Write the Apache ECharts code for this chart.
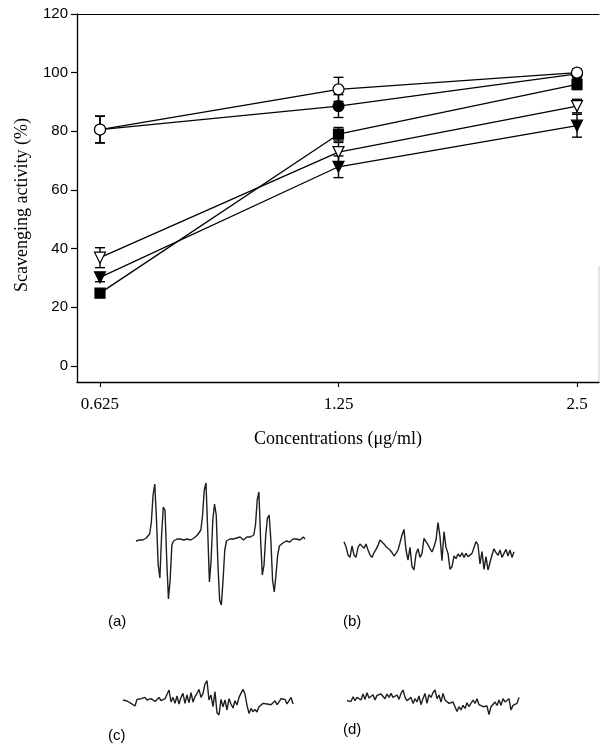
<!DOCTYPE html>
<html>
<head>
<meta charset="utf-8">
<script src="https://cdn.jsdelivr.net/npm/echarts@6/dist/echarts.min.js"></script>
<style>
html, body { margin: 0; padding: 0; background: #fff; }
#chart { width: 600px; height: 749px; }
</style>
</head>
<body>
<div id="chart"></div>
<script>
// Concentrations tested (µg/ml) and axis tick labels
const concentrations = [0.625, 1.25, 2.5];
const concLabels = ['0.625', '1.25', '2.5'];
const yTicks = [0, 20, 40, 60, 80, 100, 120];

// Scavenging activity (%) and standard deviations for each sample
const filledCircle = [80.6, 88.6, 99.6];
const filledCircleErr = [4.5, 3.9, 1.0];
const openCircle = [80.6, 94.3, 100.0];
const openCircleErr = [4.6, 4.1, 1.2];
const filledSquare = [24.8, 79.0, 96.0];
const filledSquareErr = [1.2, 2.3, 1.8];
const openTriangle = [36.9, 72.9, 88.6];
const openTriangleErr = [3.4, 3.3, 2.3];
const filledTriangle = [30.2, 67.9, 81.9];
const filledTriangleErr = [1.5, 3.7, 3.9];

// ESR spectra (relative signal intensity at evenly spaced field steps)
const spectrumA = [-1, 1, 0, -2, 0, 1, 2, 3, 6, 18, 45, 56, 20, -25, -38, 5, 33, 30, -20, -59,
  -40, -5, -1, 0, 1, 0, 1, 2, 0, 1, 1, 2, 0, 1, 2, 3, 5, 6, 10, 25,
  50, 57, 10, -42, -20, 20, 36, 25, -25, -60, -65, -40, -10, -1, 0, 1, 2, 1, 3, 2,
  1, 3, 2, 0, 2, 3, 2, 3, 4, 5, 15, 40, 48, 0, -35, -25, 5, 22, 25, 0,
  -40, -52, -35, -15, -6, -4, -3, -2, -1, 0, -2, 0, 1, -1, 1, 2, 0, 1, 3, 1];
const spectrumB = [10, 5, -3.3, -5.7, 5.7, -3.3, -5.7, 4.3, 7.7, 9.7, 3.3, 7.7, 1.7, -3.3, -5.7, -1, 2.3, 6.3, 11.7, 10.3,
  7.7, 5, 3.3, 1.7, -1, -4.3, -1.7, 1.7, 9, 16.7, 22.3, 1.7, -8.3, 4.3, -15, -18.3, -2.3, 3, -5.7, -1.7,
  13.3, 10, 7, 3, -0.3, 5, 11.7, 29, 15, -9, 20, 4.3, -1.7, -17.7, -15, -4.3, -7, -2.3, -5, -1,
  -5.7, -1.7, -5, -7, -1.7, 4.3, 10, 6.7, -12.3, 0, -17.7, -5, -18.3, -19, -3.3, 3, -1, -3.7, 1.7, -5.7,
  -1.7, 2.3, -4.3, 1.7, -5.7, 0];
const spectrumC = [1.7, 3, 0.7, 1.7, -1.7, -3.7, -4.3, 2.3, 4.3, 3, 2.3, 4.3, 1.7, 0.3, 3, 1.7, 0.3, 2.3, 4.3, 1,
  -0.3, 3, 5, 11.7, -0.3, 4.3, -1.7, 5.7, -2.3, 4.3, 8.3, -1.7, 6.7, -1, 9, -0.3, 5, 8.3, 12.3, 4.3,
  8.3, 17.7, 21, 1.7, 6.7, -5, 10, -11, -13.3, 2.3, -5, 1.7, -8.3, 3, -2.3, -6.3, 1, -3.3, 4.3, 6.3,
  12.3, 7.7, -3.7, -11.7, -6.7, -10, -7.7, -10.3, -5, -3.7, -1.7, -3.7, -2.3, -0.3, -3, -3.7, 1, -3, -0.3, 3,
  1, 2.3, -2.3, -4.3, 4.3, -2.3];
const spectrumD = [1, 3, 0.3, 5, 1, 4.3, 6.3, 1.7, 7.7, 2.3, 9, 3.7, 5.7, 7, 1.7, 6.3, 5, 7.7, 8.3, 3,
  7.7, 4.3, 8.3, 4.3, 3, 6.7, 2.3, 8.3, 11.7, 4.3, 1, 2.3, 4.3, -1.7, 3, -0.3, 5.7, -3, 3.3, 8.3,
  -1.7, 7, 4.3, 9, 11.7, 3, 6.7, -0.3, 8.3, 1.7, 3, -1.7, -3, -0.3, -5, -9.7, -5, -8.3, -3.7, -6.7,
  -1, -5, -3.7, 1.7, -1.7, 3, -3, -1, -5, -3, -4.3, -13, -5, -3.7, -0.3, -3.7, 1.7, -3.7, 3, -0.3,
  1.7, 3, -8.3, -3.7, -5, -1.7, 4.3];
const spectrumNames = ['(a)', '(b)', '(c)', '(d)'];

const chart = echarts.init(document.getElementById('chart'), null, { renderer: 'canvas' });

const serif = 'Liberation Serif, Times New Roman, serif';
const sans = 'Liberation Sans, Arial, sans-serif';

function pairs(values) {
  return values.map((v, i) => [concentrations[i], v]);
}
function errData(values, errs) {
  return values.map((v, i) => [concentrations[i], v - errs[i], v + errs[i]]);
}

function errorSeries(values, errs) {
  return {
    type: 'custom',
    xAxisIndex: 0,
    yAxisIndex: 0,
    z: 1,
    silent: true,
    data: errData(values, errs),
    renderItem: function (params, api) {
      const lo = api.coord([api.value(0), api.value(1)]);
      const hi = api.coord([api.value(0), api.value(2)]);
      const w = 5;
      const st = { stroke: '#000', lineWidth: 1.4 };
      return {
        type: 'group',
        children: [
          { type: 'line', shape: { x1: lo[0], y1: lo[1], x2: hi[0], y2: hi[1] }, style: st },
          { type: 'line', shape: { x1: lo[0] - w, y1: lo[1], x2: lo[0] + w, y2: lo[1] }, style: st },
          { type: 'line', shape: { x1: hi[0] - w, y1: hi[1], x2: hi[0] + w, y2: hi[1] }, style: st }
        ]
      };
    }
  };
}

function lineSeries(values, symbol, filled, size, rotate) {
  return {
    type: 'line',
    xAxisIndex: 0,
    yAxisIndex: 0,
    z: 3,
    data: pairs(values),
    symbol: symbol,
    symbolSize: size,
    symbolRotate: rotate || 0,
    showAllSymbol: true,
    lineStyle: { color: '#000', width: 1.3 },
    itemStyle: { color: filled ? '#000' : '#fff', borderColor: '#000', borderWidth: 1.2 },
    emphasis: { disabled: true },
    animation: false
  };
}

// Spectrum panels: left, width, top, height, min, max
const panels = [
  { left: 136, width: 169, top: 470, height: 150, min: -80, max: 70 },
  { left: 344, width: 170, top: 500, height: 100, min: -48.3, max: 51.7 },
  { left: 123, width: 170, top: 660, height: 80, min: -38.3, max: 41.7 },
  { left: 347, width: 172, top: 660, height: 80, min: -38.3, max: 41.7 }
];
const spectra = [spectrumA, spectrumB, spectrumC, spectrumD];

const grids = [{ left: 77, top: 14, width: 522, height: 368, show: false }];
const xAxes = [{
  type: 'log',
  logBase: 2,
  min: 0.5846,
  max: 2.665,
  gridIndex: 0,
  axisLine: { show: true, onZero: false, lineStyle: { color: '#000', width: 1.3 } },
  axisTick: { show: true, inside: false, length: 5, customValues: concentrations, lineStyle: { color: '#000', width: 1.2 } },
  axisLabel: {
    customValues: concentrations,
    formatter: function (v) { return concLabels[concentrations.findIndex(c => Math.abs(c - v) < 1e-6)] || ''; },
    margin: 14,
    color: '#000',
    fontFamily: serif,
    fontSize: 17
  },
  splitLine: { show: false },
  minorTick: { show: false },
  name: 'Concentrations (\u03bcg/ml)',
  nameLocation: 'middle',
  nameGap: 48,
  nameTextStyle: { color: '#000', fontFamily: serif, fontSize: 18 }
}];
const yAxes = [{
  type: 'value',
  min: -5.5,
  max: 120,
  gridIndex: 0,
  axisLine: { show: true, onZero: false, lineStyle: { color: '#000', width: 1.3 } },
  axisTick: { show: true, inside: false, length: 6, customValues: yTicks, lineStyle: { color: '#000', width: 1.2 } },
  axisLabel: { customValues: yTicks, margin: 9, color: '#000', fontFamily: sans, fontSize: 15 },
  splitLine: { show: false },
  name: 'Scavenging activity (%)',
  nameLocation: 'middle',
  nameGap: 46,
  nameTextStyle: { color: '#000', fontFamily: serif, fontSize: 18, padding: [0, 0, 0, -14] }
}];

const series = [
  errorSeries(filledCircle, filledCircleErr),
  errorSeries(openCircle, openCircleErr),
  errorSeries(filledSquare, filledSquareErr),
  errorSeries(openTriangle, openTriangleErr),
  errorSeries(filledTriangle, filledTriangleErr),
  lineSeries(filledCircle, 'circle', true, 11),
  lineSeries(openCircle, 'circle', false, 11),
  lineSeries(filledSquare, 'rect', true, 10),
  lineSeries(openTriangle, 'triangle', false, 11, 180),
  lineSeries(filledTriangle, 'triangle', true, 11, 180)
];

panels.forEach((p, k) => {
  const gi = k + 1;
  grids.push({ left: p.left, width: p.width, top: p.top, height: p.height, show: false });
  xAxes.push({ type: 'category', gridIndex: gi, boundaryGap: false, data: spectra[k].map((_, i) => i), show: false });
  yAxes.push({ type: 'value', gridIndex: gi, min: p.min, max: p.max, show: false });
  series.push({
    type: 'line',
    xAxisIndex: gi,
    yAxisIndex: gi,
    data: spectra[k],
    showSymbol: false,
    lineStyle: { color: '#1e1e1e', width: 1.4 },
    emphasis: { disabled: true },
    animation: false
  });
});

// Frame line along the top of the plot area
xAxes.push({
  type: 'log',
  logBase: 2,
  min: 0.5846,
  max: 2.665,
  gridIndex: 0,
  position: 'top',
  axisLine: { show: true, onZero: false, lineStyle: { color: '#000', width: 1.2 } },
  axisTick: { show: false },
  axisLabel: { show: false },
  splitLine: { show: false }
});

// Panel labels under each spectrum, plus the faint lower part of the right frame
const labelPos = [[108, 623], [343, 623], [108, 737], [343, 731]];
const graphic = spectrumNames.map((t, k) => ({
  type: 'text',
  left: labelPos[k][0],
  top: labelPos[k][1] - 9,
  style: { text: t, font: '15px ' + sans, fill: '#000' }
}));
graphic.push({
  type: 'line',
  shape: { x1: 599, y1: 266, x2: 599, y2: 382 },
  style: { stroke: '#c8c8c8', lineWidth: 1 }
});

chart.setOption({
  animation: false,
  backgroundColor: '#fff',
  grid: grids,
  xAxis: xAxes,
  yAxis: yAxes,
  series: series,
  graphic: graphic
});
</script>
</body>
</html>
